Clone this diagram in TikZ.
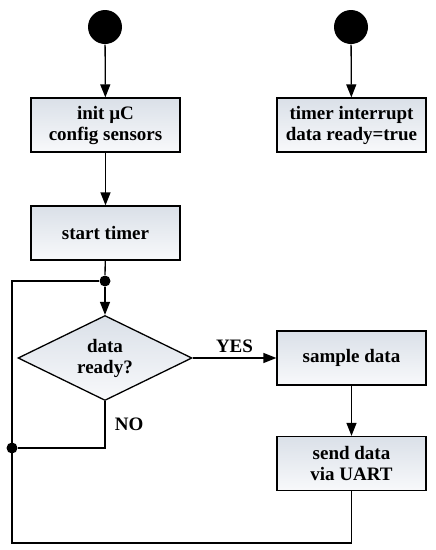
\documentclass[tikz,border=0pt]{standalone}
\usepackage{fontspec}
\setmainfont{Liberation Serif}
\usepackage{tikz}
\usetikzlibrary{
  arrows.meta,
  positioning,
  shapes.geometric
}
\definecolor{boxtop}{RGB}{218,224,232}
\definecolor{boxbot}{RGB}{248,249,251}

\begin{document}
\begin{tikzpicture}[x=1pt,y=-1pt,
  line width=1.3pt,
  every node/.style={font=\bfseries\fontsize{19}{21}\selectfont},
  flow/.style={-{Triangle[length=13pt,width=10pt]}},
  startdot/.style={circle,fill=black,minimum size=34pt,inner sep=0pt},
  joindot/.style={circle,fill=black,minimum size=11pt,inner sep=0pt},
  action/.style={draw,rectangle,top color=boxtop,bottom color=boxbot,
    minimum width=149pt,minimum height=54pt,align=center,inner sep=0pt},
  decision/.style={draw,diamond,top color=boxtop,bottom color=boxbot,
    minimum width=174pt,minimum height=85pt,aspect=2,align=center,inner sep=0pt}
]
\useasboundingbox (0,0) rectangle (436,550);
\node[startdot] (start) at (105,27) {};
\node[startdot] (irqstart) at (351,27) {};
\node[action] (init) at (105.5,125) {init µC\\config sensors};
\node[action] (irq) at (351.5,125) {timer interrupt\\data ready=true};
\node[action] (timer) at (105.5,233) {start timer};
\node[joindot] (join) at (105,281) {};
\node[decision] (ready) at (105,358) {data\\ready?};
\node[action] (sample) at (351.5,358) {sample data};
\node[action] (send) at (351.5,463.5) {send data\\via UART};
\node[joindot] (merge) at (12,448) {};
\coordinate (loopbot) at (12,543);
\coordinate (looptop) at (12,281);
\draw[flow] (start) -- (init);
\draw[flow] (irqstart) -- (irq);
\draw[flow] (init) -- (timer);
\draw (timer) -- (join);
\draw[flow] (join) -- (ready.north);
\draw[flow] (ready.east) -- (sample.west) node[midway,above=1pt] {YES};
\draw[flow] (sample) -- (send);
\draw (ready.south) |- (merge) node[pos=0.25,right=6pt] {NO};
\draw (send.south) |- (loopbot) -- (looptop) -- (join);
\end{tikzpicture}
\end{document}
